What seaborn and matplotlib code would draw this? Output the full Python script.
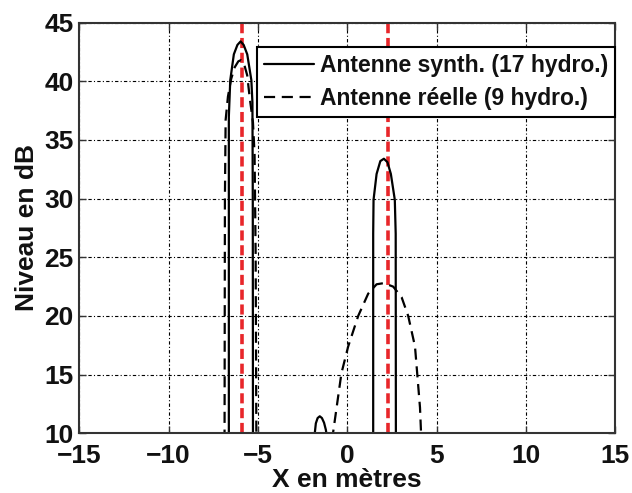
import matplotlib
matplotlib.use("Agg")
import matplotlib.pyplot as plt
import seaborn as sns
import pandas as pd

# ---- data ----
synth_x = [-15, -6.64, -6.63, -6.63, -6.55, -6.35, -6.15, -5.97, -5.8, -5.6, -5.37, -5.31, -5.29, -5.28, -5.27,
           -1.83, -1.82, -1.76, -1.66, -1.54, -1.42, -1.3, -1.2, -1.17, -1.16,
           1.44, 1.45, 1.45, 1.47, 1.64, 1.85, 2.05, 2.25, 2.44, 2.66, 2.71, 2.72, 2.73, 15]
synth_y = [0, 0, 10, 37, 40.1, 42.3, 43.1, 43.4, 43.1, 42.3, 40.1, 38.2, 30, 10, 0,
           0, 10, 10.85, 11.3, 11.45, 11.3, 10.9, 10.3, 10, 0,
           0, 10, 27, 29.9, 32.1, 33.2, 33.4, 33.1, 32.1, 29.9, 27, 10, 0, 0]

real_x = [-15, -6.88, -6.87, -6.85, -6.81, -6.68, -6.5, -6.3, -6.1, -5.96, -5.8, -5.6, -5.47, -5.28, -5.19, -5.13, -5.09, -5.08,
          -0.82, -0.8, -0.33, 0.05, 0.61, 1.17, 1.64, 2.05, 2.57, 3.04, 3.41, 3.79, 4.07, 4.13, 4.15, 15]
real_y = [0, 0, 10, 30, 36.7, 38.7, 40.2, 41.2, 41.7, 41.8, 41.6, 40.5, 38.7, 36.5, 33.8, 25.3, 10, 0,
          0, 10, 15.1, 17.4, 20, 21.9, 22.7, 22.8, 22.5, 21.6, 20, 17.4, 12.2, 10, 0, 0]

source_positions = [-5.92, 2.26]

series_labels = ["Antenne synth. (17 hydro.)", "Antenne réelle (9 hydro.)"]
x_ticks = [-15, -10, -5, 0, 5, 10, 15]
y_ticks = [10, 15, 20, 25, 30, 35, 40, 45]
x_label = "X en mètres"
y_label = "Niveau en dB"

df_synth = pd.DataFrame({"x": synth_x, "y": synth_y})
df_real = pd.DataFrame({"x": real_x, "y": real_y})

sns.set_theme(style="white")
plt.rcParams["font.family"] = ["Liberation Sans", "DejaVu Sans"]

fig = plt.figure(figsize=(6.32, 4.93), dpi=100)
ax = fig.add_axes([0.1255, 0.1211, 0.848, 0.833])

ink = "#111111"

sns.lineplot(data=df_synth, x="x", y="y", sort=False, estimator=None, ax=ax,
             color="black", linewidth=1.6, label=series_labels[0])
sns.lineplot(data=df_real, x="x", y="y", sort=False, estimator=None, ax=ax,
             color="black", linewidth=1.6, linestyle=(0, (5, 3)), label=series_labels[1])

for xp in source_positions:
    ax.axvline(xp, color="#e8262a", linewidth=2.6, linestyle=(0, (2.8, 1.3)), zorder=1)

ax.set_xlim(-15, 15)
ax.set_ylim(10, 45)
ax.set_xticks(x_ticks)
ax.set_yticks(y_ticks)
ax.set_xticklabels(["\u2212" + str(-t) if t < 0 else str(t) for t in x_ticks])

ax.grid(True, color="black", linewidth=0.8, linestyle=(0, (3, 2, 1, 2)))
for s in ax.spines.values():
    s.set_color("#333333")
    s.set_linewidth(1.5)
    s.set_visible(True)

ax.tick_params(axis="both", which="both", direction="in", length=5, width=1.0,
               top=True, right=True, bottom=True, left=True, colors="#333333",
               labelcolor=ink, labelsize=19)
ax.tick_params(axis="x", pad=8)
ax.tick_params(axis="y", pad=4)
for lab in ax.get_xticklabels() + ax.get_yticklabels():
    lab.set_fontweight("bold")

ax.set_xlabel(x_label, fontsize=19, fontweight="bold", color=ink, labelpad=0)
ax.set_ylabel(y_label, fontsize=19, fontweight="bold", color=ink, labelpad=4)

leg = ax.legend(loc="upper right", bbox_to_anchor=(1.0, 0.941), borderaxespad=0,
                frameon=True, fancybox=False, edgecolor="black", framealpha=1,
                prop={"size": 16.5, "weight": "bold"}, handlelength=2.2,
                handletextpad=0.25, borderpad=0.3, labelspacing=0.45)
leg.get_frame().set_linewidth(1.5)
for t in leg.get_texts():
    t.set_color(ink)

fig.savefig("out.png", dpi=100)
